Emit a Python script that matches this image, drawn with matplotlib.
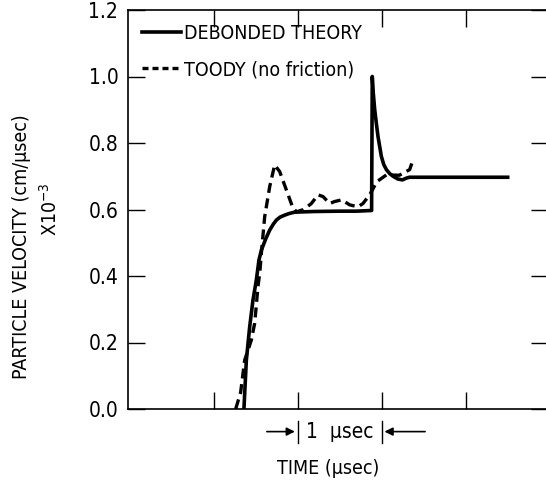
import numpy as np
import matplotlib.pyplot as plt
from matplotlib.lines import Line2D

plt.rcParams['font.family'] = ['DejaVu Sans']
plt.rcParams['font.stretch'] = 'condensed'

# debonded theory (solid)
t_theory = [1.36, 1.389, 1.429, 1.468, 1.508, 1.539, 1.568, 1.62, 1.667, 1.71,
            1.746, 1.79, 1.845, 1.9, 1.964, 2.2, 2.5, 2.7, 2.88, 2.888,
            2.90, 2.917, 2.936, 2.956, 2.976, 2.996, 3.025, 3.056, 3.095, 3.135,
            3.19, 3.247, 3.29, 3.33, 3.6, 4.0, 4.5]
v_theory = [0.0, 0.147, 0.248, 0.328, 0.388, 0.448, 0.478, 0.512, 0.538, 0.556,
            0.568, 0.577, 0.583, 0.588, 0.592, 0.594, 0.595, 0.595, 0.597, 1.0,
            0.95, 0.90, 0.86, 0.82, 0.79, 0.76, 0.735, 0.72, 0.708, 0.70,
            0.692, 0.689, 0.694, 0.697, 0.697, 0.697, 0.697]

# TOODY, no friction (dashed)
t_toody = [1.262, 1.321, 1.369, 1.449, 1.488, 1.508, 1.527, 1.548, 1.571, 1.607,
           1.667, 1.726, 1.786, 1.865, 1.944, 1.988, 2.07, 2.163, 2.242, 2.301,
           2.381, 2.44, 2.524, 2.619, 2.718, 2.777, 2.857, 2.944, 3.056, 3.21,
           3.333, 3.373]
v_toody = [0.0, 0.05, 0.147, 0.208, 0.258, 0.313, 0.368, 0.408, 0.478, 0.578,
           0.669, 0.734, 0.714, 0.659, 0.604, 0.593, 0.60, 0.618, 0.644, 0.639,
           0.618, 0.624, 0.629, 0.614, 0.608, 0.618, 0.644, 0.684, 0.704, 0.703,
           0.72, 0.749]

yticks = [0.0, 0.2, 0.4, 0.6, 0.8, 1.0, 1.2]
xticks = [1, 2, 3, 4]

fig = plt.figure(figsize=(5.46, 4.82), dpi=100)
ax = fig.add_axes([128/546, 73/482, 420/546, 399/482])

ax.plot(t_theory, v_theory, color='black', lw=2.6, solid_joinstyle='round')
ax.plot(t_toody, v_toody, color='black', lw=2.4, dashes=(3.0, 1.7))

ax.set_xlim(-0.02, 4.98)
ax.set_ylim(0, 1.2)
ax.set_yticks(yticks)
ax.set_yticklabels([f'{v:.1f}' for v in yticks])
ax.set_xticks(xticks)
ax.tick_params(direction='in', length=12, width=1, top=True, right=True,
               labelbottom=False, labelsize=15, pad=7)
for s in ax.spines.values():
    s.set_linewidth(1.2)

handles = [Line2D([], [], color='black', lw=2.6),
           Line2D([], [], color='black', lw=2.4, dashes=(1.8, 1.2))]
ax.legend(handles, ['DEBONDED THEORY', 'TOODY (no friction)'],
          loc='upper left', bbox_to_anchor=(0.033, 0.965), frameon=False,
          fontsize=14, handlelength=2.0, handletextpad=0.15,
          labelspacing=0.88, borderpad=0, borderaxespad=0)

# 1 usec scale marker
ym = -0.068
ax.plot([2, 2], [-0.035, -0.102], color='black', lw=1, clip_on=False)
ax.plot([3, 3], [-0.035, -0.102], color='black', lw=1, clip_on=False)
ax.annotate('', xy=(2, ym), xytext=(1.6, ym), annotation_clip=False,
            arrowprops=dict(arrowstyle='-|>', color='black', lw=1.2, mutation_scale=12))
ax.annotate('', xy=(3, ym), xytext=(3.55, ym), annotation_clip=False,
            arrowprops=dict(arrowstyle='-|>', color='black', lw=1.2, mutation_scale=12))
ax.text(2.5, ym, '1  µsec', ha='center', va='center', fontsize=15)

fig.text(328/546, 1 - 468/482, 'TIME (µsec)', ha='center', va='center', fontsize=14)
fig.text(22/546, 1 - 247/482, 'PARTICLE VELOCITY (cm/µsec)', rotation=90,
         ha='center', va='center', fontsize=14)
fig.text(50/546, 1 - 209/482, r'X10$^{-3}$', rotation=90,
         ha='center', va='center', fontsize=14)

fig.savefig('out.png', dpi=100)
